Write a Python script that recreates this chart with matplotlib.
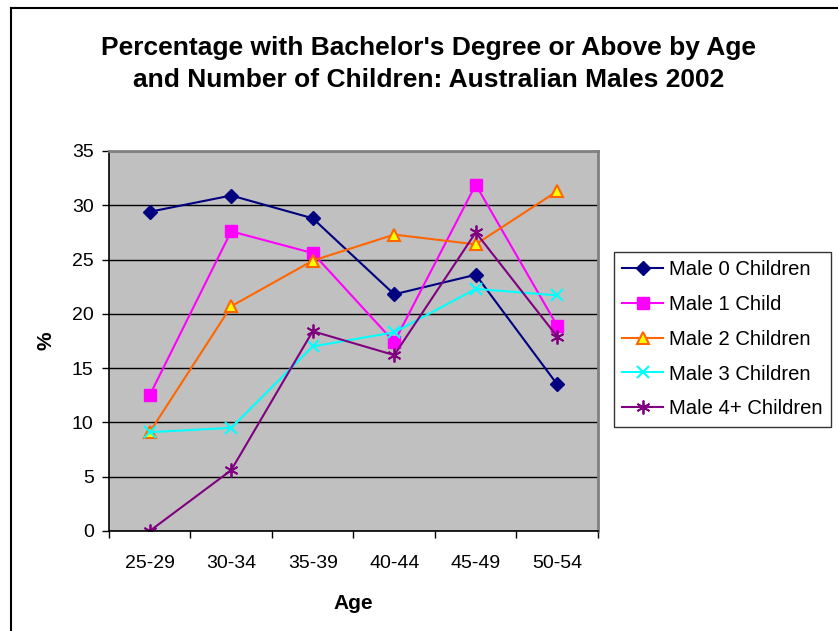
import matplotlib.pyplot as plt
from matplotlib.lines import Line2D

plt.rcParams['font.family'] = ['Liberation Sans', 'DejaVu Sans']

ages = ['25-29', '30-34', '35-39', '40-44', '45-49', '50-54']
male_0 = [29.4, 30.9, 28.8, 21.8, 23.6, 13.5]
male_1 = [12.5, 27.6, 25.6, 17.4, 31.9, 18.9]
male_2 = [9.1, 20.7, 24.9, 27.3, 26.4, 31.3]
male_3 = [9.1, 9.5, 17.0, 18.3, 22.3, 21.7]
male_4 = [0.0, 5.6, 18.4, 16.2, 27.5, 17.9]
labels = ['Male 0 Children', 'Male 1 Child', 'Male 2 Children',
          'Male 3 Children', 'Male 4+ Children']

fig = plt.figure(figsize=(8.38, 6.31), dpi=100)
ax = fig.add_axes([0.130, 0.1585, 0.5836, 0.6022])
ax.set_facecolor('#C0C0C0')

x = list(range(len(ages)))
ax.plot(x, male_0, color='#000080', lw=1.5, marker='D', ms=7,
        mfc='#000080', mec='#000080', label=labels[0])
ax.plot(x, male_1, color='#FF00FF', lw=1.5, marker='s', ms=8,
        mfc='#FF00FF', mec='#FF00FF', label=labels[1])
ax.plot(x, male_2, color='#FF6600', lw=1.5, marker='^', ms=9,
        mfc='#FFFF00', mec='#FF6600', mew=1.5, label=labels[2])
ax.plot(x, male_3, color='#00FFFF', lw=1.5, marker='x', ms=9,
        mec='#00FFFF', mew=1.5, label=labels[3])
ax.plot(x, male_4, color='#800080', lw=1.5, marker=(6, 2, 0), ms=10,
        mec='#800080', mew=1.3, label=labels[4])

ax.set_xlim(-0.5, 5.5)
ax.set_ylim(0, 35)
ax.set_yticks(range(0, 36, 5))
ax.yaxis.grid(True, color='black', lw=1)
ax.set_axisbelow(True)

ax.set_xticks(x)
ax.set_xticklabels(ages)
ax.set_xticks([i - 0.5 for i in range(7)], minor=True)
ax.tick_params(axis='x', which='major', length=0, pad=17, labelsize=14)
ax.tick_params(axis='x', which='minor', length=5, width=1)
ax.tick_params(axis='y', length=5, width=1, labelsize=14, pad=6)

for s in ['top', 'right']:
    ax.spines[s].set_color('#808080')
    ax.spines[s].set_linewidth(2)
for s in ['left', 'bottom']:
    ax.spines[s].set_color('black')
    ax.spines[s].set_linewidth(1.2)

ax.set_xlabel('Age', fontsize=15, fontweight='bold')
ax.xaxis.set_label_coords(0.5, -0.165)
ax.set_ylabel('%', fontsize=15, fontweight='bold')
ax.yaxis.set_label_coords(-0.11, 0.5)

fig.text(0.511, 0.899, "Percentage with Bachelor's Degree or Above by Age\n"
         "and Number of Children: Australian Males 2002",
         ha='center', va='center', fontsize=19, fontweight='bold',
         linespacing=1.4)

leg = fig.legend(loc='upper left', bbox_to_anchor=(0.733, 0.6006),
                 fontsize=14.6, frameon=True, fancybox=False,
                 edgecolor='black', handlelength=2.0, handletextpad=0.3,
                 labelspacing=0.78, borderpad=0.4, borderaxespad=0)
leg.get_frame().set_linewidth(1)

# outer chart border (only left and top edges visible in the original)
fig.lines.append(Line2D([0.013, 0.013], [0.0, 0.987], transform=fig.transFigure,
                        color='black', lw=1.5))
fig.lines.append(Line2D([0.013, 1.0], [0.987, 0.987], transform=fig.transFigure,
                        color='black', lw=1.5))

fig.savefig('out.png', dpi=100)
